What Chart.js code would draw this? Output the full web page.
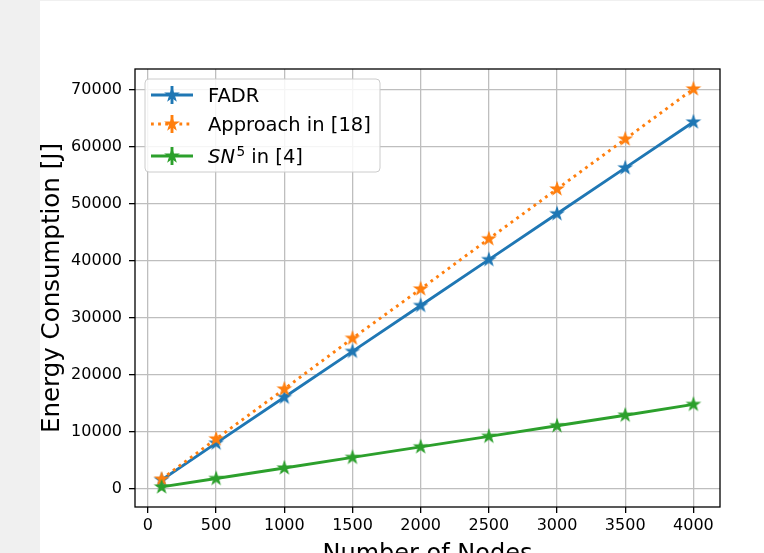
<!DOCTYPE html>
<html>
<head>
<meta charset="utf-8">
<script src="https://cdn.jsdelivr.net/npm/chart.js@4"></script>
<style>
  html, body { margin: 0; padding: 0; background: #f0f0f0; overflow: hidden; }
  #panel { position: absolute; left: 40px; top: 1px; width: 724px; height: 566px; background: #fff; }
</style>
</head>
<body>
<div id="panel"><canvas id="energyChart"></canvas></div>
<script>
"use strict";
// ========== DATA ========== //
const nodeCounts = [100, 500, 1000, 1500, 2000, 2500, 3000, 3500, 4000];
const fadrEnergy = [1600, 8050, 16100, 24150, 32200, 40250, 48300, 56350, 64400];
const approach18Energy = [1750, 8800, 17550, 26450, 35100, 43900, 52650, 61400, 70200];
const sn5Energy = [370, 1850, 3700, 5550, 7400, 9250, 11100, 12950, 14850];
const seriesNames = ['FADR', 'Approach in [18]', 'SN^5 in [4]'];

const xTickValues = [0, 500, 1000, 1500, 2000, 2500, 3000, 3500, 4000];
const yTickValues = [0, 10000, 20000, 30000, 40000, 50000, 60000, 70000];
const xRange = [-95, 4195];
const yRange = [-3150, 73700];

// ========== STYLE ========== //
const FONT = "'DejaVu Sans', sans-serif";
const colors = ['#1f77b4', '#ff7f0e', '#2ca02c'];
const dashes = [[], [2.8, 4.3], []];
const LINE_W = 2.9;

// filled five point star, like matplotlib's '*' marker
function drawStar(ctx, cx, cy, r, color) {
  ctx.beginPath();
  for (let i = 0; i < 10; i++) {
    const rad = i % 2 === 0 ? r : r * 0.382;
    const a = -Math.PI / 2 + i * Math.PI / 5;
    ctx.lineTo(cx + rad * Math.cos(a), cy + rad * Math.sin(a));
  }
  ctx.closePath();
  ctx.fillStyle = color;
  ctx.fill();
  ctx.strokeStyle = color;
  ctx.lineWidth = 1.1;
  ctx.stroke();
}

function makeStarImage(color) {
  const c = document.createElement('canvas');
  c.width = 18;
  c.height = 18;
  drawStar(c.getContext('2d'), 9, 9, 6.5, color);
  return c;
}

// label text; "SN^5 in [4]" gets italic SN and a superscript 5
function drawLabel(ctx, text, x, y, size) {
  ctx.fillStyle = '#000';
  ctx.textBaseline = 'alphabetic';
  ctx.textAlign = 'left';
  if (text.indexOf('^') < 0) {
    ctx.font = size + 'px ' + FONT;
    ctx.fillText(text, x, y);
    return;
  }
  const head = text.split('^')[0];
  const sup = text.split('^')[1].charAt(0);
  const rest = text.split('^')[1].slice(1);
  ctx.font = 'oblique ' + size + 'px ' + FONT;
  ctx.fillText(head, x, y);
  x += ctx.measureText(head).width + 1.5;
  ctx.font = (size * 0.7) + 'px ' + FONT;
  ctx.fillText(sup, x, y - 7);
  x += ctx.measureText(sup).width;
  ctx.font = size + 'px ' + FONT;
  ctx.fillText(rest, x, y);
}

// ========== PLUGIN: axes frame + legend box ========== //
const frameAndLegend = {
  id: 'frameAndLegend',
  afterDatasetsDraw(chart) {
    const ctx = chart.ctx;
    const a = chart.chartArea;
    ctx.save();
    // four spines
    ctx.strokeStyle = '#000';
    ctx.lineWidth = 1.3;
    ctx.strokeRect(a.left, a.top, a.right - a.left, a.bottom - a.top);

    // legend box in the upper left corner
    const bx = a.left + 10, by = a.top + 10, bw = 235, bh = 93;
    ctx.beginPath();
    ctx.roundRect(bx, by, bw, bh, 4);
    ctx.fillStyle = 'rgba(255,255,255,0.85)';
    ctx.fill();
    ctx.strokeStyle = '#cccccc';
    ctx.lineWidth = 1;
    ctx.stroke();

    const rowY = [by + 16, by + 45, by + 77];
    seriesNames.forEach((name, i) => {
      const y = rowY[i];
      const x0 = bx + 6, x1 = bx + 48, xm = (x0 + x1) / 2;
      ctx.strokeStyle = colors[i];
      ctx.lineWidth = LINE_W;
      ctx.lineCap = 'butt';
      ctx.setLineDash(dashes[i]);
      ctx.beginPath();
      ctx.moveTo(x0, y);
      ctx.lineTo(x1, y);
      ctx.stroke();
      ctx.setLineDash([]);
      // error bar
      ctx.beginPath();
      ctx.moveTo(xm, y - 9);
      ctx.lineTo(xm, y + 9);
      ctx.stroke();
      drawStar(ctx, xm, y, 6.5, colors[i]);
      drawLabel(ctx, name, bx + 63, y + 7, 19.5);
    });
    ctx.restore();
  }
};

// ========== CHART ========== //
function toPoints(values) {
  return values.map((v, i) => ({ x: nodeCounts[i], y: v }));
}

const seriesValues = [fadrEnergy, approach18Energy, sn5Energy];
const datasets = seriesValues.map((values, i) => ({
  label: seriesNames[i],
  data: toPoints(values),
  borderColor: colors[i],
  backgroundColor: colors[i],
  borderWidth: LINE_W,
  borderDash: dashes[i],
  borderCapStyle: 'butt',
  pointStyle: makeStarImage(colors[i]),
  pointRadius: 6,
  fill: false,
  tension: 0,
  order: 3 - i
}));

const tickFont = { family: FONT, size: 16 };
const gridStyle = { color: '#bebebe', lineWidth: 1.3, tickColor: '#000', tickLength: 6, tickWidth: 1.3 };
const plainNumber = v => String(v);

new Chart(document.querySelector('#energyChart'), {
  type: 'line',
  data: { datasets },
  options: {
    responsive: true,
    maintainAspectRatio: false,
    animation: false,
    events: [],
    layout: { padding: { top: 68, right: 44, left: 0, bottom: 0 } },
    plugins: { legend: { display: false }, tooltip: { enabled: false } },
    scales: {
      x: {
        type: 'linear',
        min: xRange[0],
        max: xRange[1],
        afterBuildTicks: scale => { scale.ticks = xTickValues.map(v => ({ value: v })); },
        afterFit: scale => { scale.height = 60; },
        ticks: { font: tickFont, color: '#000', padding: 3, maxRotation: 0, autoSkip: false, callback: plainNumber },
        grid: gridStyle,
        border: { display: false },
        title: { display: true, text: 'Number of Nodes', color: '#000',
                 font: { family: FONT, size: 24, lineHeight: 1 }, padding: { top: 0, bottom: 0 } }
      },
      y: {
        min: yRange[0],
        max: yRange[1],
        afterBuildTicks: scale => { scale.ticks = yTickValues.map(v => ({ value: v })); },
        afterFit: scale => { scale.width = 95; },
        ticks: { font: tickFont, color: '#000', padding: 7, autoSkip: false, callback: plainNumber },
        grid: gridStyle,
        border: { display: false },
        title: { display: true, text: 'Energy Consumption [J]', color: '#000',
                 font: { family: FONT, size: 24.5, lineHeight: 1 }, padding: { top: 0, bottom: 0 } }
      }
    }
  },
  plugins: [frameAndLegend]
});
</script>
</body>
</html>
